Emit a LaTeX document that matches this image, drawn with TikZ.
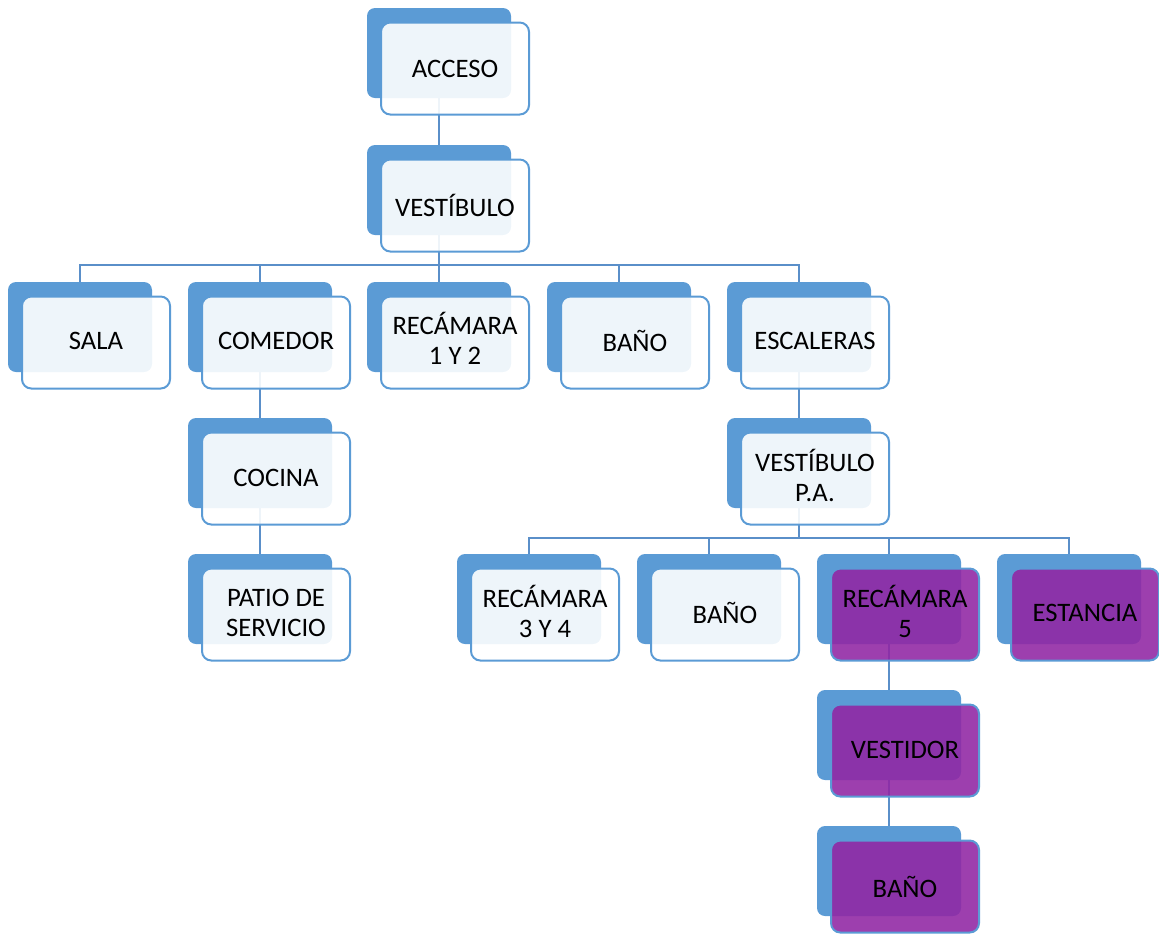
\documentclass[tikz,border=0pt]{standalone}
\usepackage{fontspec}
\setmainfont{Carlito}
\pgfdeclarelayer{bg}
\pgfsetlayers{bg,main}
\definecolor{backblue}{HTML}{5B9BD5}
\definecolor{lineblue}{HTML}{5A8FC9}
\definecolor{bordblue}{HTML}{5B9BD5}
\definecolor{purp}{HTML}{9127A4}
\tikzset{
  back/.style={rectangle, rounded corners=6pt, fill=backblue, draw=none,
    minimum width=108pt, minimum height=67.5pt, inner sep=0pt, outer sep=0pt},
  front/.style={rectangle, rounded corners=7pt, draw=bordblue, line width=1.5pt,
    fill=white, fill opacity=0.9,
    minimum width=111pt, minimum height=69pt, inner sep=0pt, outer sep=0pt},
  txt/.style={align=center, inner sep=0pt, font=\fontsize{20}{22.5}\selectfont, text=black},
  purplebox/.style={fill=purp, fill opacity=0.89},
  conn/.style={draw=lineblue, line width=1.6pt}
}
% name, x, y, box style, text yshift, text
\newcommand\unitbox[6]{%
  \node[back] (#1b) at (#2,#3) {};
  \node[front,#4] (#1) at ({#2+16},{#3+15.5}) {};
  \node[txt] (#1t) at ([yshift=#5]#1.center) {#6};}
\begin{document}
\begin{tikzpicture}[x=0.75pt,y=-0.75pt]
\useasboundingbox (0,0) rectangle (1159,933);
\unitbox{acc}{439}{53}{}{-0.5pt}{ACCESO}
\unitbox{ves}{439}{190}{}{0pt}{VESTÍBULO}
\unitbox{sala}{80}{327}{}{1pt}{SALA}
\unitbox{com}{260}{327}{}{1pt}{COMEDOR}
\unitbox{rua}{439}{327}{}{3pt}{RECÁMARA\\1 Y 2}
\unitbox{baa}{619}{327}{}{1pt}{BAÑO}
\unitbox{esc}{799}{327}{}{1pt}{ESCALERAS}
\unitbox{coc}{260}{463}{}{0.5pt}{COCINA}
\unitbox{pat}{260}{599}{}{1.5pt}{PATIO DE\\SERVICIO}
\unitbox{vpa}{799}{463}{}{2pt}{VESTÍBULO\\P.A.}
\unitbox{rtc}{529}{599}{}{2.5pt}{RECÁMARA\\3 Y 4}
\unitbox{bab}{709}{599}{}{1pt}{BAÑO}
\unitbox{rci}{889}{599}{purplebox}{2.5pt}{RECÁMARA\\5}
\unitbox{est}{1069}{599}{purplebox}{1pt}{ESTANCIA}
\unitbox{vtd}{889}{735}{purplebox}{0.5pt}{VESTIDOR}
\unitbox{bac}{889}{871}{purplebox}{0pt}{BAÑO}
\begin{pgfonlayer}{bg}
\draw[conn] (accb.south) -- (vesb.north);
\foreach \c in {salab,comb,ruab,baab,escb}
  \draw[conn] (vesb.south) -- ++(0,30) -| (\c.north);
\draw[conn] (comb.south) -- (cocb.north);
\draw[conn] (cocb.south) -- (patb.north);
\draw[conn] (escb.south) -- (vpab.north);
\foreach \c in {rtcb,babb,rcib,estb}
  \draw[conn] (vpab.south) -- ++(0,30) -| (\c.north);
\draw[conn] (rcib.south) -- (vtdb.north);
\draw[conn] (vtdb.south) -- (bacb.north);
\end{pgfonlayer}
\end{tikzpicture}
\end{document}
